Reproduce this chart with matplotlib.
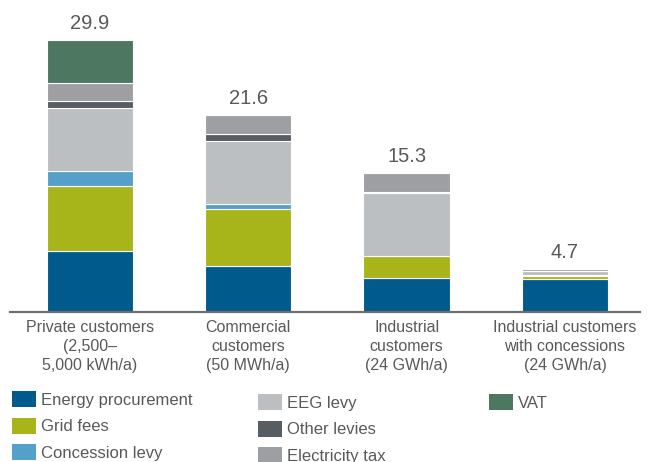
import numpy as np
import matplotlib
matplotlib.use("Agg")
import matplotlib.pyplot as plt
from matplotlib.patches import Patch

plt.rcParams['font.family'] = ['Liberation Sans', 'DejaVu Sans']

# data (ct/kWh)
groups = ["Private customers\n(2,500–\n5,000 kWh/a)",
          "Commercial\ncustomers\n(50 MWh/a)",
          "Industrial\ncustomers\n(24 GWh/a)",
          "Industrial customers\nwith concessions\n(24 GWh/a)"]
totals = [29.9, 21.6, 15.3, 4.7]

components = ["Energy procurement", "Grid fees", "Concession levy",
              "EEG levy", "Other levies", "Electricity tax", "VAT"]
energy = [6.69, 5.0, 3.7, 3.6]
grid = [7.18, 6.3, 2.4, 0.35]
concession = [1.66, 0.6, 0.1, 0.1]
eeg = [6.88, 6.88, 6.88, 0.4]
other = [0.74, 0.77, 0.1, 0.05]
tax = [2.05, 2.05, 2.05, 0.2]
vat = [4.7, 0.0, 0.0, 0.0]

colors = ["#005a8c", "#a7b51a", "#55a0c8", "#bcbfc2", "#565d63", "#9d9fa2", "#4e7762"]
txt = "#595959"

series = [energy, grid, concession, eeg, other, tax, vat]

fig = plt.figure(figsize=(6.57, 4.62), dpi=100)
ax = fig.add_axes([10 / 657, 150 / 462, 630 / 657, 294 / 462])

x = np.arange(len(groups))
bottom = np.zeros(len(groups))
for vals, col, name in zip(series, colors, components):
    ax.bar(x, vals, width=0.545, bottom=bottom, color=col, edgecolor="white",
           linewidth=0.8, label=name)
    bottom += np.array(vals)

for xi, t in zip(x, totals):
    ax.annotate(f"{t}", (xi, t), xytext=(0, 11), textcoords="offset pixels",
                ha="center", va="baseline", fontsize=14.5, color=txt)

ax.set_xlim(-0.505, 3.474)
ax.set_ylim(0, 32.3)
ax.set_xticks(x, groups)
ax.tick_params(axis="x", length=0, pad=6, labelsize=11.5, labelcolor=txt)
for lab in ax.get_xticklabels():
    lab.set_linespacing(1.3)
ax.set_yticks([])
for s in ["top", "left", "right"]:
    ax.spines[s].set_visible(False)
ax.spines["bottom"].set_color("#6e6e6e")
ax.spines["bottom"].set_linewidth(1.6)

# legend in three columns
handles = [Patch(facecolor=c, edgecolor="none") for c in colors]
cols = [([0, 1, 2], 12, 391), ([3, 4, 5], 258, 394), ([6], 489, 394)]
for idx, px, py in cols:
    fig.legend([handles[i] for i in idx], [components[i] for i in idx],
               loc="upper left", bbox_to_anchor=(px / 657, 1 - py / 462),
               frameon=False, fontsize=12, handlelength=1.45, handleheight=1.1,
               handletextpad=0.3, labelspacing=0.6, borderpad=0,
               borderaxespad=0, labelcolor=txt)

fig.savefig("out.png", dpi=100)
